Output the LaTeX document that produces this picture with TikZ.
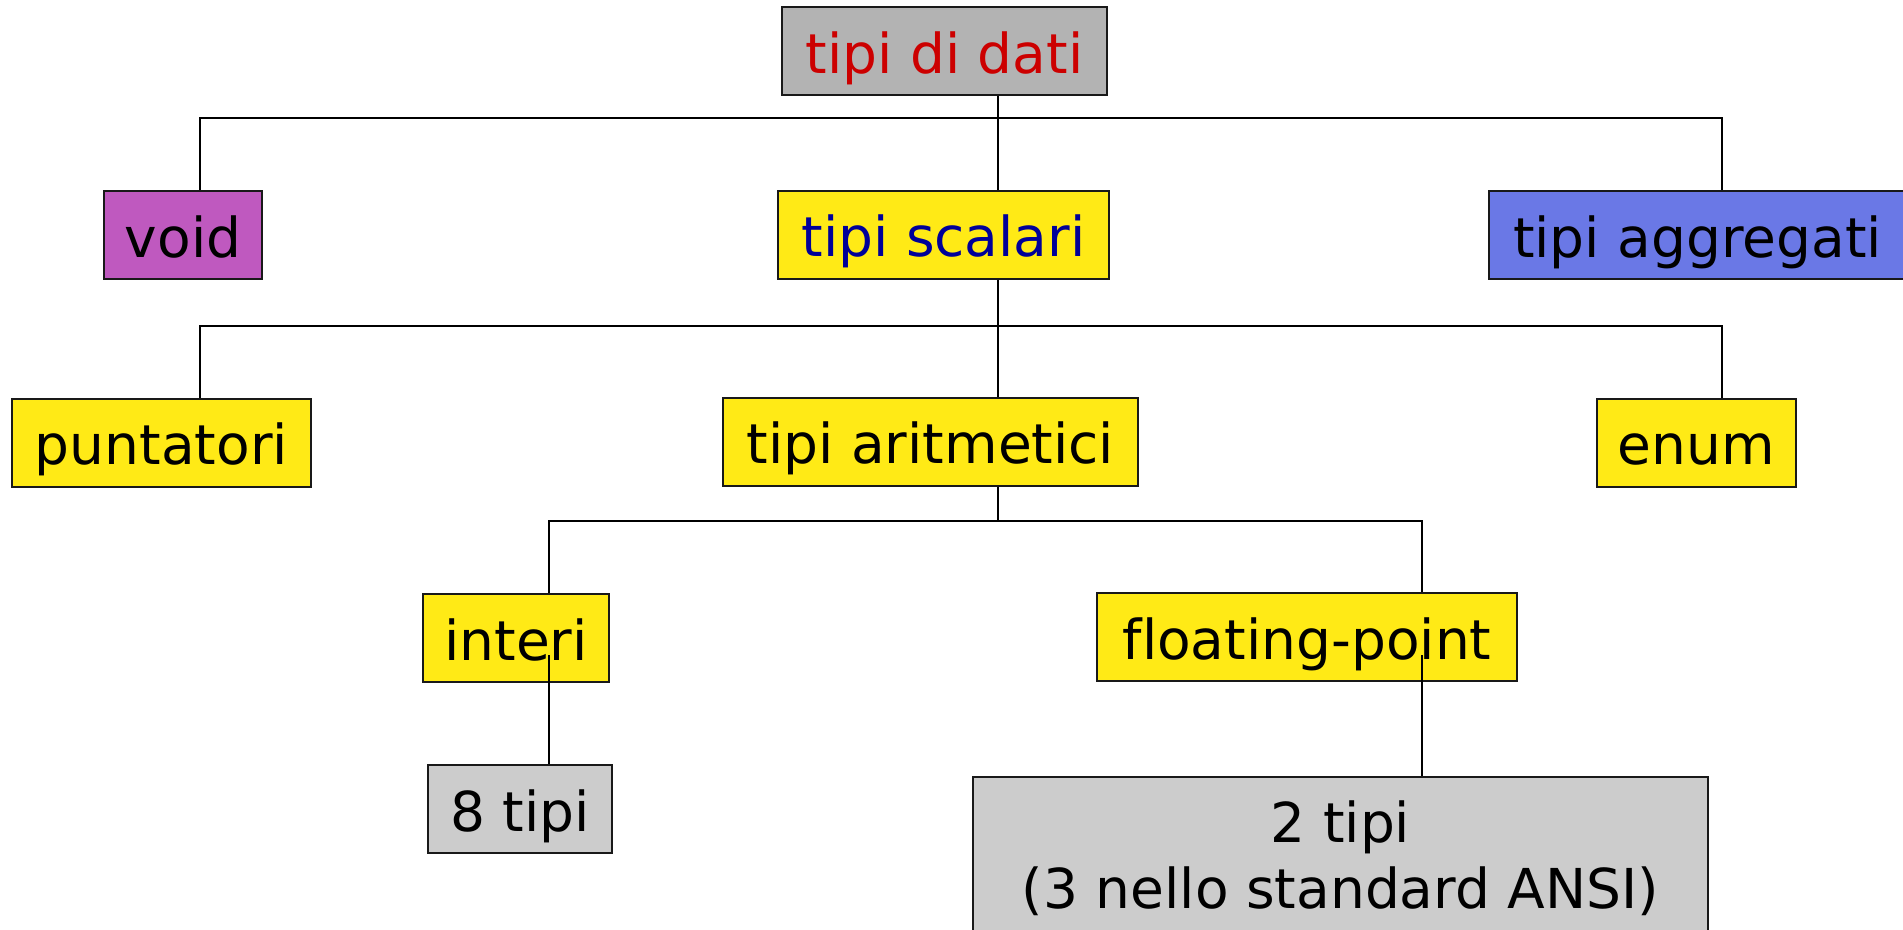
\documentclass[tikz,border=0pt]{standalone}
\usepackage{fontspec}
\setmainfont{DejaVu Sans}[Ligatures=NoCommon]
\usepackage{tikz}

\definecolor{rootgray}{RGB}{179,179,179}
\definecolor{leafgray}{RGB}{204,204,204}
\definecolor{boxyellow}{RGB}{255,234,22}
\definecolor{voidpurple}{RGB}{191,89,191}
\definecolor{aggblue}{RGB}{106,120,230}
\definecolor{titlered}{RGB}{204,0,0}
\definecolor{titleblue}{RGB}{0,0,153}

\begin{document}
\begin{tikzpicture}[x=1pt,y=-1pt,
    box/.style={draw=black!90,line width=2pt,inner sep=0pt,minimum height=88,
      text height=55pt,text depth=11pt,font=\fontsize{55}{66}\selectfont},
    wire/.style={line width=2pt}]
  \useasboundingbox (0,0) rectangle (1903,929);
  \clip (0,0) rectangle (1903,929);
  % Boxes, row by row (centres in pixels of the frame)
  \node[box,fill=rootgray,text=titlered,minimum width=325] (dati) at (944.5,51) {tipi di dati};
  \node[box,fill=voidpurple,minimum width=158] (void) at (183,235) {void};
  \node[box,fill=boxyellow,text=titleblue,minimum width=331] (scalari) at (943.5,234.5) {tipi scalari};
  \node[box,fill=aggblue,minimum width=417] (aggregati) at (1697.5,235) {tipi aggregati};
  \node[box,fill=boxyellow,minimum width=299] (puntatori) at (161.5,442.5) {puntatori};
  \node[box,fill=boxyellow,minimum width=415] (aritmetici) at (930.5,441.5) {tipi aritmetici};
  \node[box,fill=boxyellow,minimum width=199] (enum) at (1696.5,442.5) {enum};
  \node[box,fill=boxyellow,minimum width=186] (interi) at (516,638) {interi};
  \node[box,fill=boxyellow,minimum width=420] (floating) at (1307,637) {floating-point};
  \node[box,fill=leafgray,minimum width=184] (otto) at (520,809) {8 tipi};
  \node[box,fill=leafgray,minimum width=735,minimum height=160,align=center,
    text height=121pt,text depth=19pt] (duetipi) at (1340.5,857) {2 tipi\\ (3 nello standard ANSI)};
  % Bus lines
  \coordinate (a1) at (200,118);
  \coordinate (a2) at (1722,118);
  \coordinate (am) at (998,118);
  \draw[wire] (void.north -| a1) -- (a1) -- (a2) -- (aggregati.north -| a2);
  \draw[wire] (dati.south -| am) -- (scalari.north -| am);
  \coordinate (b1) at (200,326);
  \coordinate (b2) at (1722,326);
  \coordinate (bm) at (998,326);
  \draw[wire] (puntatori.north -| b1) -- (b1) -- (b2) -- (enum.north -| b2);
  \draw[wire] (scalari.south -| bm) -- (aritmetici.north -| bm);
  \coordinate (c1) at (549,521);
  \coordinate (c2) at (1422,521);
  \coordinate (cm) at (998,521);
  \draw[wire] (interi.north -| c1) -- (c1) -- (c2) -- (floating.north -| c2);
  \draw[wire] (aritmetici.south -| cm) -- (cm);
  % Leaves (the lines start inside the boxes)
  \coordinate (d1) at (549,655);
  \coordinate (d2) at (1422,655);
  \draw[line width=1.6pt] (d1) -- (otto.north -| d1);
  \draw[line width=1.6pt] (d2) -- (duetipi.north -| d2);
\end{tikzpicture}
\end{document}
